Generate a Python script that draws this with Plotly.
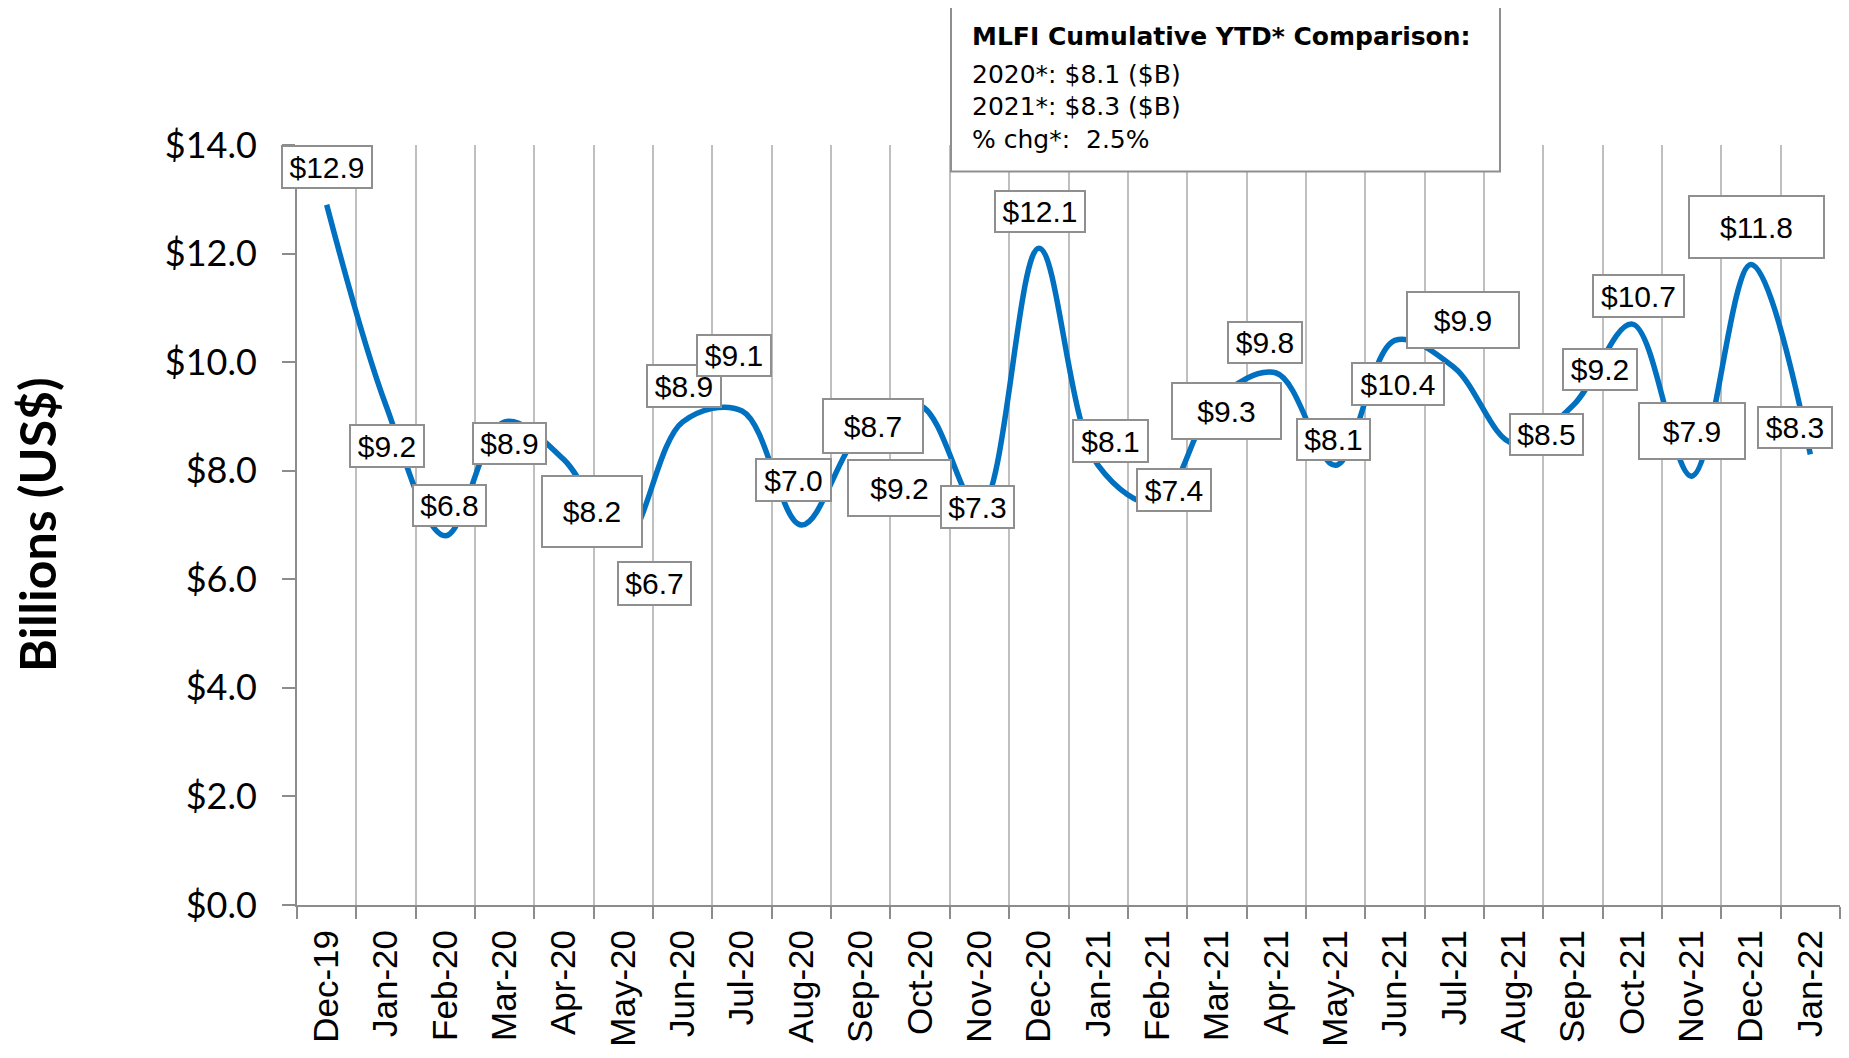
import plotly.graph_objects as go

# ---- data ----
months = ["Dec-19", "Jan-20", "Feb-20", "Mar-20", "Apr-20", "May-20", "Jun-20", "Jul-20",
          "Aug-20", "Sep-20", "Oct-20", "Nov-20", "Dec-20", "Jan-21", "Feb-21", "Mar-21",
          "Apr-21", "May-21", "Jun-21", "Jul-21", "Aug-21", "Sep-21", "Oct-21", "Nov-21",
          "Dec-21", "Jan-22"]
values = [12.9, 9.2, 6.8, 8.9, 8.2, 6.7, 8.9, 9.1, 7.0, 8.7, 9.2, 7.3, 12.1, 8.1, 7.4, 9.3,
          9.8, 8.1, 10.4, 9.9, 8.5, 9.2, 10.7, 7.9, 11.8, 8.3]
ytick_vals = [0, 2, 4, 6, 8, 10, 12, 14]
ytick_text = ["$0.0", "$2.0", "$4.0", "$6.0", "$8.0", "$10.0", "$12.0", "$14.0"]

box_title = "MLFI Cumulative YTD* Comparison:"
box_lines = ["2020*: $8.1 ($B)", "2021*: $8.3 ($B)", "% chg*:  2.5%"]

# ---- label styling (pixel offsets of label box centre from the point, box sizes) ----
lab_dx = [0.7, 0.7, 4.4, 4.3, 27.5, 30.7, 0.8, -7.7, -7.5, 12.7, -20.2, -2.0, 0.7,
          12.6, 16.3, 9.4, -10.8, -2.1, 2.7, 8.7, 33.1, 26.8, 5.9, 0.3, 6.0, -15.8]
lab_dy = [37.3, -40.2, 30.8, -21.9, -51.6, -42.6, 35.8, 55.5, 45.0, 7.1, -82.0, 2.0, 36.5,
          24.2, 13.2, -10.5, 30.9, 25.5, -43.1, 47.5, 8.8, 36.5, 28.1, 44.7, 37.0, 26.9]
lab_w = [92, 76, 75, 75, 102, 75, 76, 76, 77, 102, 105, 75, 92,
         77, 76, 111, 76, 75, 94, 114, 75, 76, 93, 108, 137, 76]
lab_h = [44, 44, 43, 43, 73, 45, 44, 43, 44, 56, 58, 44, 43,
         44, 44, 58, 43, 43, 44, 58, 43, 43, 44, 58, 64, 43]

# page offset (body margin of the html page)
OFF = 8
W, H = 1849 - OFF, 1058 - OFF
ML, MR, MT, MB = 297 - OFF, 9, 145 - OFF, 153
PW, PH = W - ML - MR, H - MT - MB


def px_x(px):
    # page pixel -> paper coordinate
    return (px - OFF - ML) / PW


def px_y(py):
    return (H - MB - (py - OFF)) / PH


fig = go.Figure()
fig.add_trace(go.Scatter(
    x=months, y=values, mode="lines",
    line=dict(color="#0070C0", width=5.5, shape="spline", smoothing=1.0),
    hoverinfo="skip", showlegend=False,
))

annotations = []
for i, (m, v) in enumerate(zip(months, values)):
    annotations.append(dict(
        x=m, y=v, xref="x", yref="y", text=f"${v:.1f}", showarrow=False,
        xshift=lab_dx[i], yshift=lab_dy[i],
        width=lab_w[i] - 4, height=lab_h[i] - 4,
        bgcolor="white", bordercolor="#8f8f8f", borderwidth=2, borderpad=0,
        font=dict(family="Liberation Sans, Arial", size=30, color="black"),
        align="center", valign="middle",
    ))

# y-axis title
annotations.append(dict(
    x=px_x(37), y=0.5, xref="paper", yref="paper", text="<b>Billions (US$)</b>",
    textangle=-90, showarrow=False, xanchor="center", yanchor="middle",
    font=dict(family="Lato", size=50, color="black"),
))

# comparison box text
annotations.append(dict(
    x=px_x(970), y=px_y(36), xref="paper", yref="paper", text="<b>" + box_title + "</b>",
    showarrow=False, xanchor="left", yanchor="middle",
    font=dict(family="DejaVu Sans", size=25, color="black"),
))
for k, (ln, cy) in enumerate(zip(box_lines, [74.5, 106, 139.5])):
    annotations.append(dict(
        x=px_x(970), y=px_y(cy), xref="paper", yref="paper", text=ln,
        showarrow=False, xanchor="left", yanchor="middle",
        font=dict(family="DejaVu Sans", size=25, color="black"),
    ))

shapes = [dict(
    type="rect", xref="paper", yref="paper",
    x0=px_x(951), x1=px_x(1500), y0=px_y(171.5), y1=px_y(6.5),
    fillcolor="white", line=dict(color="#8f8f8f", width=2), layer="above",
)]

fig.update_layout(
    width=W, height=H,
    margin=dict(l=ML, r=MR, t=MT, b=MB, pad=0, autoexpand=False),
    paper_bgcolor="white", plot_bgcolor="white",
    showlegend=False,
    annotations=annotations, shapes=shapes,
    xaxis=dict(
        type="category", range=[-0.5, len(months) - 0.5], automargin=False,
        tickson="boundaries", showgrid=True, gridcolor="#bfbfbf", gridwidth=2,
        showline=True, linecolor="#8c8c8c", linewidth=2,
        ticks="outside", ticklen=12, tickwidth=2, tickcolor="#8c8c8c",
        tickangle=-90, ticklabelstandoff=9,
        tickfont=dict(family="Liberation Sans, Arial", size=35, color="black"),
        zeroline=False,
    ),
    yaxis=dict(
        range=[0, 14], tickvals=ytick_vals, ticktext=ytick_text, automargin=False,
        showgrid=False, zeroline=False,
        showline=True, linecolor="#8c8c8c", linewidth=2,
        ticks="outside", ticklen=13, tickwidth=2, tickcolor="#8c8c8c",
        ticklabelstandoff=18,
        tickfont=dict(family="Lato", size=36, color="black"),
    ),
)

fig.write_html("out.html")
